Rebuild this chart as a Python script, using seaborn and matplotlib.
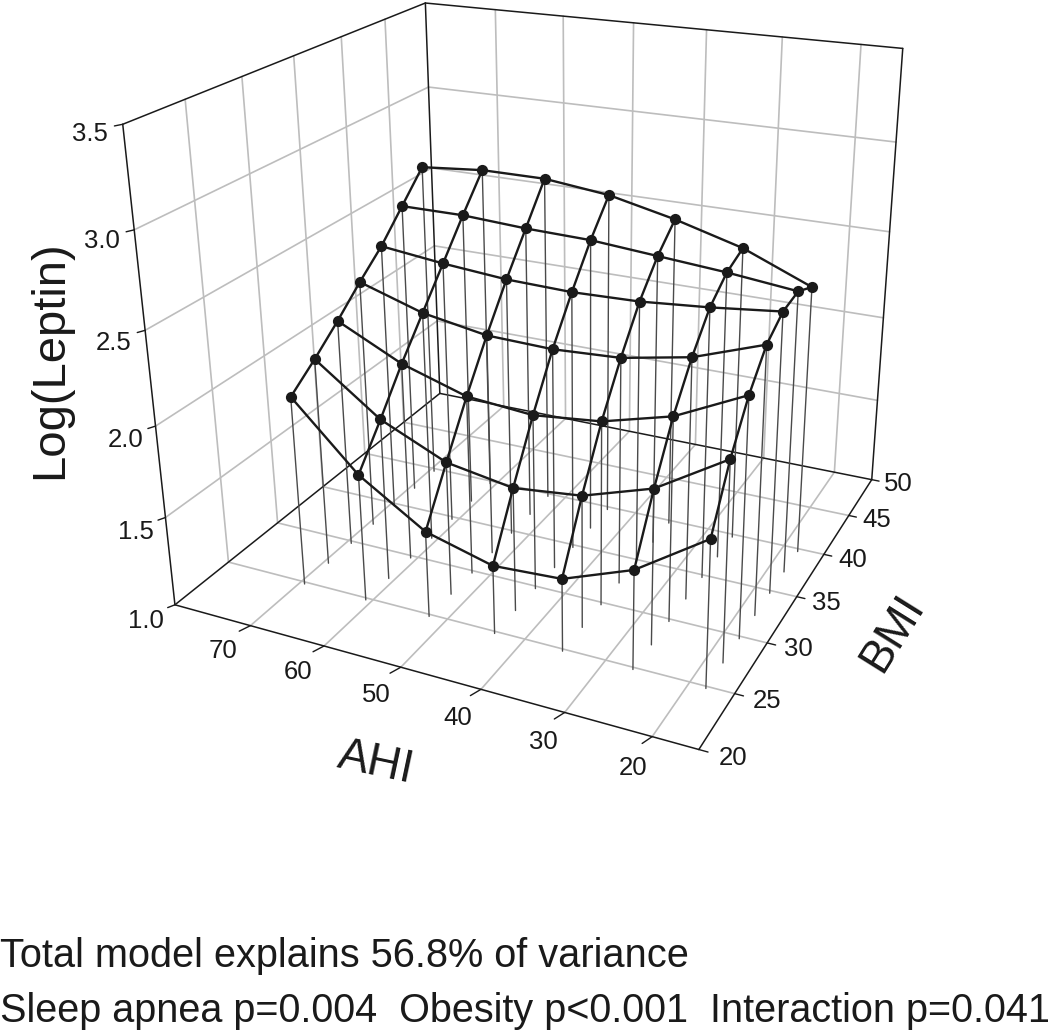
import matplotlib
matplotlib.use("Agg")
import matplotlib.pyplot as plt
from mpl_toolkits.mplot3d import proj3d
import numpy as np
import seaborn as sns

# model surface
ahi_values = [69.33, 60.77, 52.21, 43.66, 35.10, 26.54, 17.99]
bmi_values = [24.81, 27.29, 29.76, 32.24, 34.72, 37.20, 39.68]
log_leptin = [
    [2.06, 1.71, 1.48, 1.38, 1.40, 1.54, 1.79],
    [2.17, 1.91, 1.75, 1.69, 1.73, 1.85, 2.08],
    [2.29, 2.12, 2.01, 1.98, 2.02, 2.12, 2.30],
    [2.42, 2.31, 2.25, 2.24, 2.26, 2.33, 2.46],
    [2.54, 2.50, 2.47, 2.46, 2.47, 2.50, 2.54],
    [2.69, 2.69, 2.67, 2.66, 2.63, 2.60, 2.56],
    [2.84, 2.87, 2.87, 2.83, 2.75, 2.65, 2.50],
]
ahi_ticks = [70, 60, 50, 40, 30, 20]
bmi_ticks = [20, 25, 30, 35, 40, 45, 50]
leptin_ticks = [1.0, 1.5, 2.0, 2.5, 3.0, 3.5]

note_1 = "Total model explains 56.8% of variance"
note_2 = "Sleep apnea p=0.004  Obesity p<0.001  Interaction p=0.041"

INK = "#1a1a1a"
GRID = "#bdbdbd"
AHI_HI, AHI_LO = 80.69, 14.85
BMI_LO, BMI_HI = 20, 50
LEP_LO, LEP_HI = 1.0, 3.5
TICK_FONT = 18.5

sns.set_theme(style="white", font="Liberation Sans", rc={"text.color": INK})

fig = plt.figure(figsize=(10.5, 10.32), dpi=100)
ax = fig.add_axes([0.0817, 0.2436, 0.8476, 0.8624], projection="3d", computed_zorder=False)
ax.patch.set_alpha(0)

ax.set_xlim(AHI_HI, AHI_LO)
ax.set_ylim(BMI_LO, BMI_HI)
ax.set_zlim(LEP_LO, LEP_HI)
ax.view_init(elev=22.697, azim=-64.065, roll=0.644)
ax.set_proj_type("persp", focal_length=0.3557)
ax.set_box_aspect((1.0, 0.9811, 0.8892))

# mplot3d puts its own ticks and z axis on the wrong corner here, so grid, frame and ticks are drawn by hand
ax.set_xticks([])
ax.set_yticks([])
ax.set_zticks([])
ax.grid(False)
for axis in (ax.xaxis, ax.yaxis, ax.zaxis):
    axis.set_pane_color((1, 1, 1, 1))
    axis.line.set_visible(False)
    axis.label.set_visible(False)
    axis.offsetText.set_visible(False)


def line3(xs, ys, zs, color=GRID, lw=1.2, z=0):
    ax.plot(xs, ys, zs, color=color, lw=lw, zorder=z)


def label3(x, y, z, text):
    u, v, _ = proj3d.proj_transform(x, y, z, ax.get_proj())
    ax.text2D(u, v, text, transform=ax.transData, fontsize=TICK_FONT, ha="center", va="center")


for t in ahi_ticks:
    line3([t, t], [BMI_LO, BMI_HI], [LEP_LO, LEP_LO])
    line3([t, t], [BMI_HI, BMI_HI], [LEP_LO, LEP_HI])
for b in bmi_ticks[1:-1]:
    line3([AHI_HI, AHI_LO], [b, b], [LEP_LO, LEP_LO])
    line3([AHI_HI, AHI_HI], [b, b], [LEP_LO, LEP_HI])
for v in leptin_ticks[1:-1]:
    line3([AHI_HI, AHI_HI], [BMI_LO, BMI_HI], [v, v])
    line3([AHI_HI, AHI_LO], [BMI_HI, BMI_HI], [v, v])

frame = [
    ((AHI_HI, AHI_LO), (BMI_LO, BMI_LO), (LEP_LO, LEP_LO)),
    ((AHI_LO, AHI_LO), (BMI_LO, BMI_HI), (LEP_LO, LEP_LO)),
    ((AHI_LO, AHI_HI), (BMI_HI, BMI_HI), (LEP_LO, LEP_LO)),
    ((AHI_HI, AHI_HI), (BMI_HI, BMI_LO), (LEP_LO, LEP_LO)),
    ((AHI_HI, AHI_HI), (BMI_LO, BMI_LO), (LEP_LO, LEP_HI)),
    ((AHI_HI, AHI_HI), (BMI_HI, BMI_HI), (LEP_LO, LEP_HI)),
    ((AHI_LO, AHI_LO), (BMI_HI, BMI_HI), (LEP_LO, LEP_HI)),
    ((AHI_HI, AHI_HI), (BMI_LO, BMI_HI), (LEP_HI, LEP_HI)),
    ((AHI_HI, AHI_LO), (BMI_HI, BMI_HI), (LEP_HI, LEP_HI)),
]
for xs, ys, zs in frame:
    line3(xs, ys, zs, color=INK, lw=1.1, z=1)

for t in ahi_ticks:
    line3([t, t + 0.5], [BMI_LO, BMI_LO - 0.7], [LEP_LO, LEP_LO], color=INK, lw=1.0, z=1)
    label3(t - 0.2, BMI_LO - 2.6, LEP_LO, str(t))
for b in bmi_ticks:
    line3([AHI_LO, AHI_LO - 1.0], [b, b], [LEP_LO, LEP_LO], color=INK, lw=1.0, z=1)
    label3(AHI_LO - 3.6, b + 0.1, LEP_LO, str(b))
for v in leptin_ticks:
    line3([AHI_HI, AHI_HI + 0.4], [BMI_LO, BMI_LO - 0.4], [v, v], color=INK, lw=1.0, z=1)
    label3(AHI_HI + 0.9, BMI_LO - 1.96, v, f"{v:.1f}")

X, Y = np.meshgrid(ahi_values, bmi_values)
Z = np.array(log_leptin)

for x, y, z in zip(X.ravel(), Y.ravel(), Z.ravel()):
    line3([x, x], [y, y], [LEP_LO, z], color="#4a4a4a", lw=1.0, z=2)
ax.plot_wireframe(X, Y, Z, color=INK, lw=1.7, zorder=3)
ax.scatter(X.ravel(), Y.ravel(), Z.ravel(), s=65, color=INK, depthshade=False,
           linewidths=0, zorder=4)

fig.text(50 / 1050, 1 - 360 / 1032, "Log(Leptin)", rotation=90, fontsize=34, ha="center", va="center")
fig.text(376 / 1050, 1 - 763 / 1032, "AHI", rotation=-12, fontsize=33, ha="center", va="center")
fig.text(893 / 1050, 1 - 633 / 1032, "BMI", rotation=58, fontsize=33, ha="center", va="center")
fig.text(0, 1 - 956 / 1032, note_1, fontsize=28.6, ha="left", va="center")
fig.text(0, 1 - 1011 / 1032, note_2, fontsize=28.5, ha="left", va="center")

fig.savefig("out.png", dpi=100)
